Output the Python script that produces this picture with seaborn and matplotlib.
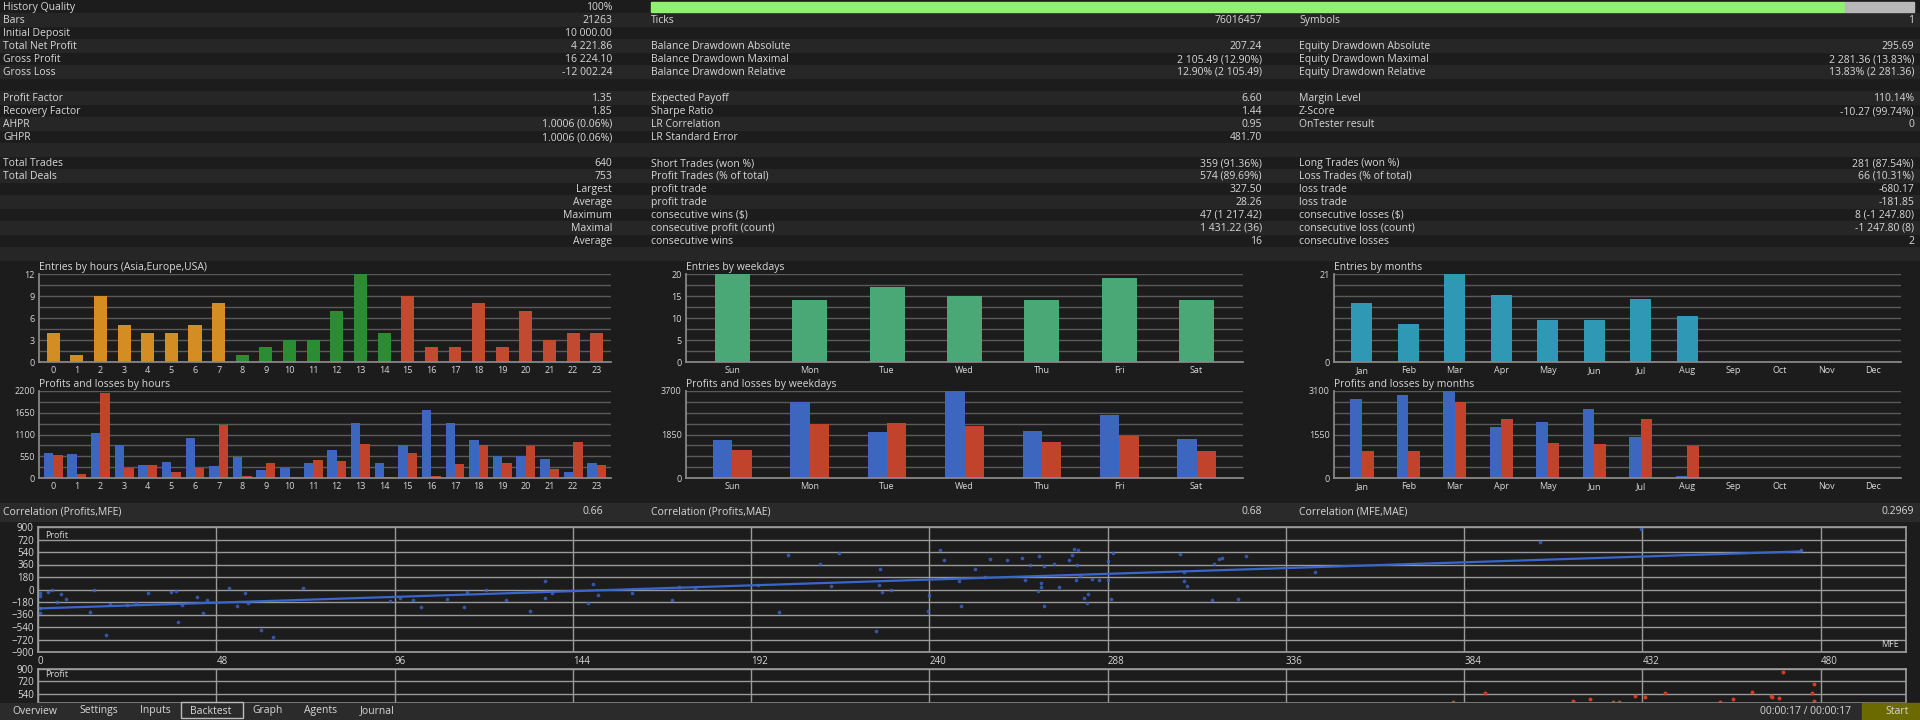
import numpy as np
import pandas as pd
import matplotlib
matplotlib.use("Agg")
import matplotlib.pyplot as plt
from matplotlib.patches import Rectangle
from matplotlib.ticker import MultipleLocator, FixedLocator
import seaborn as sns

sns.set_theme(style="dark")
plt.rcParams['font.family'] = ['Open Sans', 'DejaVu Sans']

# ---------------- data ----------------
table_col1 = [("History Quality", "100%"), ("Bars", "21263"), ("Initial Deposit", "10 000.00"),
              ("Total Net Profit", "4 221.86"), ("Gross Profit", "16 224.10"), ("Gross Loss", "-12 002.24"),
              ("", ""), ("Profit Factor", "1.35"), ("Recovery Factor", "1.85"),
              ("AHPR", "1.0006 (0.06%)"), ("GHPR", "1.0006 (0.06%)"), ("", ""),
              ("Total Trades", "640"), ("Total Deals", "753")]
row_words = ["Largest", "Average", "Maximum", "Maximal", "Average"]
table_col2 = [("", ""), ("Ticks", "76016457"), ("", ""),
              ("Balance Drawdown Absolute", "207.24"), ("Balance Drawdown Maximal", "2 105.49 (12.90%)"),
              ("Balance Drawdown Relative", "12.90% (2 105.49)"), ("", ""),
              ("Expected Payoff", "6.60"), ("Sharpe Ratio", "1.44"), ("LR Correlation", "0.95"),
              ("LR Standard Error", "481.70"), ("", ""),
              ("Short Trades (won %)", "359 (91.36%)"), ("Profit Trades (% of total)", "574 (89.69%)"),
              ("profit trade", "327.50"), ("profit trade", "28.26"),
              ("consecutive wins ($)", "47 (1 217.42)"), ("consecutive profit (count)", "1 431.22 (36)"),
              ("consecutive wins", "16")]
table_col3 = [("", ""), ("Symbols", "1"), ("", ""),
              ("Equity Drawdown Absolute", "295.69"), ("Equity Drawdown Maximal", "2 281.36 (13.83%)"),
              ("Equity Drawdown Relative", "13.83% (2 281.36)"), ("", ""),
              ("Margin Level", "110.14%"), ("Z-Score", "-10.27 (99.74%)"), ("OnTester result", "0"),
              ("", ""), ("", ""),
              ("Long Trades (won %)", "281 (87.54%)"), ("Loss Trades (% of total)", "66 (10.31%)"),
              ("loss trade", "-680.17"), ("loss trade", "-181.85"),
              ("consecutive losses ($)", "8 (-1 247.80)"), ("consecutive loss (count)", "-1 247.80 (8)"),
              ("consecutive losses", "2")]

hours = [str(h) for h in range(24)]
hour_entries = [4, 1, 9, 5, 4, 4, 5, 8, 1, 2, 3, 3, 7, 12, 4, 9, 2, 2, 8, 2, 7, 3, 4, 4]
hour_profit = [620, 600, 1150, 830, 330, 410, 1000, 300, 540, 190, 260, 380, 720, 1400, 370, 840,
               1720, 1390, 950, 550, 550, 480, 160, 380]
hour_loss = [590, 110, 2150, 250, 340, 160, 250, 1330, 60, 380, 30, 450, 440, 860, 30, 640,
             50, 350, 830, 380, 820, 240, 900, 340]

weekdays = ["Sun", "Mon", "Tue", "Wed", "Thu", "Fri", "Sat"]
weekday_entries = [20, 14, 17, 15, 14, 19, 14]
weekday_profit = [1600, 3250, 1950, 3700, 2000, 2700, 1650]
weekday_loss = [1200, 2300, 2350, 2200, 1550, 1800, 1150]

months = ["Jan", "Feb", "Mar", "Apr", "May", "Jun", "Jul", "Aug", "Sep", "Oct", "Nov", "Dec"]
month_entries = [14, 9, 21, 16, 10, 10, 15, 11, 0, 0, 0, 0]
month_profit = [2800, 2950, 3100, 1800, 2000, 2450, 1450, 70, 0, 0, 0, 0]
month_loss = [950, 950, 2700, 2100, 1250, 1200, 2100, 1150, 0, 0, 0, 0]

mfe = [0.5, 0.5, 0.5, 0.5, 2.6, 3.8, 5, 6.3, 7.6, 14, 15, 18.4, 19.5, 24, 26.5, 29.5, 35.8, 37.2,
       37.7, 38.7, 42.7, 44.4, 45.4, 51.5, 53.5, 55.8, 56.6, 60, 63.4, 71.3, 94.7, 97.5, 101, 103,
       110, 114.7, 115.5, 120.5, 126, 132.6, 136.4, 136.6, 138.5, 148, 149.5, 150.7, 160, 170.6,
       172.5, 176.8, 194, 199.6, 202, 210.7, 213.5, 215.6, 225.6, 226.4, 226.7, 227.4, 229.7,
       239.7, 240, 243, 244, 248, 248.6, 252.2, 255, 256.4, 260.8, 265, 265.8, 267, 269.6, 270,
       270, 269.3, 271, 271, 273.6, 274.8, 277.6, 278.5, 279, 280, 279.7, 279.4, 280.5, 281.7,
       282.8, 282.5, 283.8, 285.7, 288, 288, 289, 289.5, 307.5, 308.5, 308.7, 309.5, 316, 316.7,
       318, 318.7, 323, 325.3, 343.8, 404.4, 431.6, 474.8]
mfe_profit = [-49, -97, -268, -340, -34, -10, -180, -58, -136, -330, -5, -657, -204, -224, -195,
              -44, -29, -19, -472, -219, -102, -340, -156, 15, -238, -54, -200, -579, -686, 20,
              -165, -117, -151, -258, -136, -248, -34, -10, -146, -311, -122, 126, -49, -200, 73,
              -78, -49, -146, 29, 24, 58, -331, 491, 370, 49, 520, -598, 58, 297, -29, -10, -306,
              -73, 564, 428, 117, -243, 302, 185, 438, 423, 448, 136, 355, 477, 97, 34, -15, 345,
              -243, 365, 29, 423, 501, 584, 564, 355, 141, 195, -117, -58, -195, 151, 141, 404,
              131, -136, 520, 511, 253, 117, 44, -151, 365, 438, 448, -131, 477, 248, 691, 871, 569]

mae = [381, 389.7, 413.4, 417.8, 424, 425.8, 430, 432.8, 438, 452.8, 456.5, 461.6, 466.6, 466.8,
       468.8, 470, 477.7, 478.2, 478.2]
mae_profit = [418, 559, 433, 467, 418, 423, 511, 501, 555, 428, 462, 574, 511, 491, 482, 861,
              550, 681, 443]

# ---------------- layout helpers ----------------
W, H = 1920, 720
BG = "#1c1c1c"
ROW = "#262626"
TXT = "#d8d8d8"
GRID = "#5a5a5a"
fig = plt.figure(figsize=(19.2, 7.2), dpi=100, facecolor=BG)


def fx(x):
    return x / W


def fy(y):
    return 1 - y / H


def box(l, t, r, b):
    return fig.add_axes([l / W, 1 - b / H, (r - l) / W, (b - t) / H])


def band(t, b, color):
    fig.patches.append(Rectangle((0, fy(b)), 1, (b - t) / H, transform=fig.transFigure,
                                 color=color, zorder=0))


def put(x, y, s, ha="left", size=7.5, color=TXT):
    fig.text(fx(x), fy(y), s, ha=ha, va="center", fontsize=size, color=color)


# ---------------- statistics table ----------------
row_h = 13.0
for i in range(20):
    if i % 2 == 1:
        band(i * row_h, (i + 1) * row_h, ROW)
for i, (lab, val) in enumerate(table_col1):
    y = 7.5 + i * row_h
    put(3, y, lab)
    put(612, y, val, ha="right")
for i, w in enumerate(row_words):
    put(612, 7.5 + (14 + i) * row_h, w, ha="right")
for i, (lab, val) in enumerate(table_col2):
    y = 7.5 + i * row_h
    put(651, y, lab)
    put(1262, y, val, ha="right")
for i, (lab, val) in enumerate(table_col3):
    y = 7.5 + i * row_h
    put(1299, y, lab)
    put(1914, y, val, ha="right")
fig.patches.append(Rectangle((fx(651), fy(12)), fx(1845 - 651), 10 / H, transform=fig.transFigure,
                             color="#90f070", zorder=1))
fig.patches.append(Rectangle((fx(1845), fy(12)), fx(1914 - 1845), 10 / H, transform=fig.transFigure,
                             color="#b8b8b8", zorder=1))


# ---------------- bar charts ----------------
def style_bars(ax, title, top, major, minor, labels):
    ax.set_facecolor(BG)
    ax.set_ylim(0, top)
    ax.yaxis.set_major_locator(FixedLocator(major))
    ax.yaxis.set_minor_locator(MultipleLocator(minor))
    ax.yaxis.grid(True, which="both", color=GRID, lw=1.0)
    ax.xaxis.grid(False)
    ax.set_axisbelow(True)
    for s in ["top", "right"]:
        ax.spines[s].set_visible(False)
    for s in ["left", "bottom"]:
        ax.spines[s].set_color("#8a8a8a")
    ax.set_xlim(-0.6, len(labels) - 0.4)
    ax.set_xticks(range(len(labels)))
    ax.set_xticklabels(labels)
    ax.set_xticks(np.arange(len(labels) + 1) - 0.5, minor=True)
    ax.tick_params(axis="x", which="major", length=0, colors=TXT, labelsize=6.5, pad=3)
    ax.tick_params(axis="x", which="minor", length=3, color="#8a8a8a")
    ax.tick_params(axis="y", which="both", length=0, colors=TXT, labelsize=6.5, pad=3)
    ax.set_xlabel("")
    ax.set_ylabel("")
    ax.set_title(title, loc="left", fontsize=7.5, color=TXT, pad=3)


def entries_chart(ax, cats, vals, colors, title, top, major, minor, width):
    df = pd.DataFrame({"cat": cats, "val": vals})
    sns.barplot(data=df, x="cat", y="val", hue="cat", palette=colors, legend=False,
                width=width, ax=ax, edgecolor="none", saturation=1)
    style_bars(ax, title, top, major, minor, cats)


def pl_chart(ax, cats, prof, loss, title, top, major, minor, width):
    df = pd.DataFrame({"cat": cats * 2, "val": prof + loss,
                       "kind": ["profit"] * len(cats) + ["loss"] * len(cats)})
    sns.barplot(data=df, x="cat", y="val", hue="kind", palette={"profit": "#3d66bf", "loss": "#c2432b"},
                width=width, ax=ax, edgecolor="none", saturation=1, legend=False)
    style_bars(ax, title, top, major, minor, cats)


hour_colors = ["#d38d22"] * 8 + ["#2a8d32"] * 7 + ["#c24a30"] * 9
ax = box(39, 274, 611, 362)
entries_chart(ax, hours, hour_entries, hour_colors, "Entries by hours (Asia,Europe,USA)",
              12, [0, 3, 6, 9, 12], 1.5, 0.55)
ax = box(39, 391, 611, 478)
pl_chart(ax, hours, hour_profit, hour_loss, "Profits and losses by hours",
         2200, [0, 550, 1100, 1650, 2200], 275, 0.8)

ax = box(686, 274, 1243, 362)
entries_chart(ax, weekdays, weekday_entries, ["#4aa877"] * 7, "Entries by weekdays",
              20, [0, 5, 10, 15, 20], 2.5, 0.45)
ax = box(686, 391, 1243, 478)
pl_chart(ax, weekdays, weekday_profit, weekday_loss, "Profits and losses by weekdays",
         3700, [0, 1850, 3700], 462.5, 0.5)

ax = box(1334, 274, 1901, 362)
entries_chart(ax, months, month_entries, ["#2f98b5"] * 12, "Entries by months",
              21, [0, 21], 2.625, 0.45)
ax = box(1334, 391, 1901, 478)
pl_chart(ax, months, month_profit, month_loss, "Profits and losses by months",
         3100, [0, 1550, 3100], 387.5, 0.5)

# ---------------- correlation row ----------------
band(503, 521, "#2a2a2a")
put(3, 512, "Correlation (Profits,MFE)")
put(603, 512, "0.66", ha="right")
put(651, 512, "Correlation (Profits,MAE)")
put(1262, 512, "0.68", ha="right")
put(1299, 512, "Correlation (MFE,MAE)")
put(1914, 512, "0.2969", ha="right")


# ---------------- scatter panels ----------------
def style_scatter(ax, ylo, yticks):
    ax.set_facecolor(BG)
    ax.set_xlim(0, 503)
    ax.set_ylim(ylo, 900)
    ax.set_xticks(np.arange(0, 481, 48))
    ax.set_yticks(yticks)
    ax.yaxis.set_minor_locator(MultipleLocator(180))
    ax.grid(True, color="#9a9a9a", lw=1.0)
    ax.grid(True, which="minor", axis="y", color="#9a9a9a", lw=1.0)
    for s in ax.spines.values():
        s.set_color("#9a9a9a")
    ax.tick_params(length=0, colors=TXT, labelsize=7, pad=3)
    for lbl in ax.get_xticklabels():
        lbl.set_horizontalalignment("left")
    ax.set_xlabel("")
    ax.set_ylabel("")
    ax.text(0.004, 0.97, "Profit", transform=ax.transAxes, fontsize=6.5, color=TXT, va="top")


ax = box(38, 527, 1906, 652)
sns.regplot(x=mfe, y=mfe_profit, ci=None, ax=ax, color="#3a66cc",
            scatter_kws={"s": 7, "linewidths": 0}, line_kws={"lw": 1.6})
style_scatter(ax, -900, np.arange(-900, 901, 180))
ax.text(0.996, 0.04, "MFE", transform=ax.transAxes, fontsize=6.5, color=TXT, ha="right")

ax = box(38, 669, 1906, 703)
sns.scatterplot(x=mae, y=mae_profit, ax=ax, color="#d83a22", s=8, linewidth=0)
style_scatter(ax, 410, [540, 720, 900])
ax.set_xticklabels([])

# ---------------- tab bar ----------------
band(703, 720, "#2b2b2b")
tabs = ["Overview", "Settings", "Inputs", "Backtest", "Graph", "Agents", "Journal"]
tab_x = [35, 99, 155, 211, 268, 321, 377]
for name, x in zip(tabs, tab_x):
    put(x, 711, name, ha="center", size=7.5)
fig.patches.append(Rectangle((fx(181), fy(718)), fx(62), 16 / H, transform=fig.transFigure,
                             fill=False, edgecolor="#bbbbbb", lw=1, zorder=3))
put(1805, 711, "00:00:17 / 00:00:17", ha="center", size=7.5)
fig.patches.append(Rectangle((fx(1862), fy(719)), fx(58), 16 / H, transform=fig.transFigure,
                             color="#6b6a00", zorder=2))
put(1897, 711, "Start", ha="center", size=7.5)

fig.savefig("out.png", dpi=100, facecolor=BG)
